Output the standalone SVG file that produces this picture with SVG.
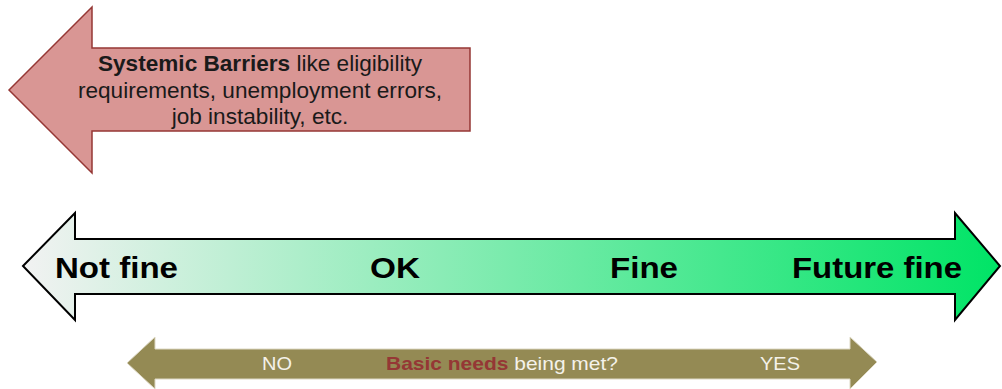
<svg xmlns="http://www.w3.org/2000/svg" width="1002" height="389" viewBox="0 0 1002 389">
  <style>
    .sans { font-family: "Liberation Sans", Arial, sans-serif; }
    .barrier { font-size: 22.6px; fill: #1a1a1a; }
    .scale { font-size: 29px; font-weight: bold; fill: #000; }
    .needs { font-size: 19px; fill: #f4f2ea; }
    .b { font-weight: bold; }
  </style>
  <defs>
    <linearGradient id="greenGrad" gradientUnits="userSpaceOnUse" x1="23" y1="0" x2="1000" y2="0">
      <stop offset="0" stop-color="#f2f2f2"/>
      <stop offset="1" stop-color="#00e466"/>
    </linearGradient>
  </defs>

  <g id="barriers">
    <polygon points="9,90 92,7 92,48 470,48 470,131 92,131 92,173" fill="#d99694" stroke="#953735" stroke-width="1.5" stroke-linejoin="miter"/>
    <text class="sans barrier" text-anchor="middle" x="260" y="71"><tspan class="b">Systemic Barriers</tspan> like eligibility</text>
    <text class="sans barrier" text-anchor="middle" x="260" y="98">requirements, unemployment errors,</text>
    <text class="sans barrier" text-anchor="middle" x="260" y="124">job instability, etc.</text>
  </g>

  <g id="scale">
    <polygon points="23,266 75,213 75,239 955,239 955,213 1000,266 955,320 955,294 75,294 75,320" fill="url(#greenGrad)" stroke="#000" stroke-width="2" stroke-linejoin="miter"/>
    <text class="sans scale" x="55" y="278" textLength="123" lengthAdjust="spacingAndGlyphs">Not fine</text>
    <text class="sans scale" x="370" y="278" textLength="50" lengthAdjust="spacingAndGlyphs">OK</text>
    <text class="sans scale" x="610" y="278" textLength="68" lengthAdjust="spacingAndGlyphs">Fine</text>
    <text class="sans scale" x="792" y="278" textLength="170" lengthAdjust="spacingAndGlyphs">Future fine</text>
  </g>

  <g id="basic-needs">
    <polygon points="127,363 155,337 155,349 850,349 850,337 877,362 850,389 850,379 155,379 155,389" fill="#948a54" stroke="#ddd8c4" stroke-width="1"/>
    <text class="sans needs" x="262" y="370" textLength="30" lengthAdjust="spacingAndGlyphs">NO</text>
    <text class="sans needs" x="386" y="370" textLength="232" lengthAdjust="spacingAndGlyphs"><tspan class="b" fill="#953735">Basic needs</tspan> being met?</text>
    <text class="sans needs" x="760" y="370" textLength="40" lengthAdjust="spacingAndGlyphs">YES</text>
  </g>
</svg>
